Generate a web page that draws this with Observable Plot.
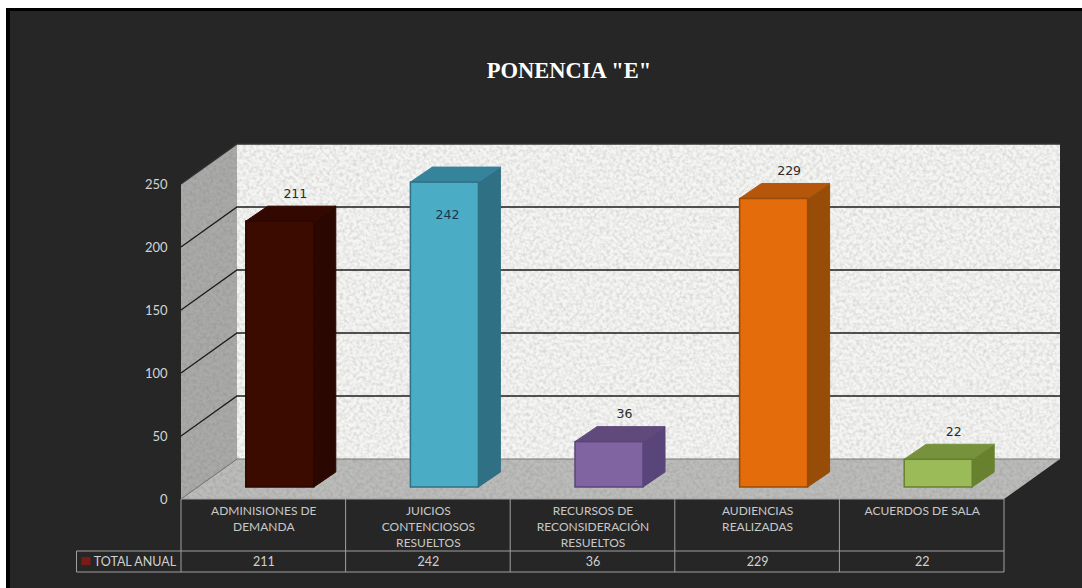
<!DOCTYPE html>
<html>
<head>
<meta charset="utf-8">
<script src="https://cdn.jsdelivr.net/npm/d3@7"></script>
<script src="https://cdn.jsdelivr.net/npm/@observablehq/plot@0.6"></script>
<style>
html,body{margin:0;padding:0;background:#fff;overflow:hidden;width:1082px;height:588px}
#panel{position:absolute;left:6px;top:8px;right:0;bottom:0;background:#262626;border-left:4px solid #000;border-top:3px solid #000}
#chart{position:absolute;left:0;top:0}
</style>
</head>
<body>
<div id="panel"></div>
<div id="chart"></div>
<script>
const title = 'PONENCIA "E"';
const seriesName = "TOTAL ANUAL";
const categories = ["ADMINISIONES DE\nDEMANDA","JUICIOS\nCONTENCIOSOS\nRESUELTOS","RECURSOS DE\nRECONSIDERACIÓN\nRESUELTOS","AUDIENCIAS\nREALIZADAS","ACUERDOS DE SALA"];
const values = [211,242,36,229,22];
const yTicks = [0,50,100,150,200,250];
const frontColors = ["#3b0b00","#4bacc6","#8064a2","#e46c0a","#9bbb59"];
const sideColors  = ["#2a0700","#2f7085","#59457a","#974c08","#67812f"];
const topColors   = ["#330800","#36849c","#604a7b","#b5560a","#76923c"];
const rows = categories.map((c,i)=>({c,v:values[i],i}));

const wall = {dx:56, dy:-40};      // depth of the chart box
const barZ = {dx:16.5, dy:-12};    // where the bar front sits inside the box
const barD = {dx:22, dy:-15};      // depth of each bar
const barInset = 48.3;
const tableRow1 = 52, tableRow2 = 73, headerLeft = 76.5;

const poly = (g,pts,fill,stroke,extra={})=>{
  const p = g.append("polygon").attr("points",pts.map(d=>d.join(",")).join(" ")).attr("fill",fill);
  if(stroke) p.attr("stroke",stroke);
  for(const k in extra) p.attr(k,extra[k]);
  return p;
};

function boxMark(_, {x,y}){
  const g = d3.create("svg:g");
  const defs = g.append("defs");
  defs.html(`<filter id="stone" x="0" y="0" width="1" height="1" color-interpolation-filters="sRGB">
    <feTurbulence type="fractalNoise" baseFrequency="0.3" numOctaves="2" seed="7" result="n"/>
    <feGaussianBlur in="n" stdDeviation="0.7" result="b"/>
    <feColorMatrix in="b" type="matrix" values="0 0 0 0 0.4 0 0 0 0 0.4 0 0 0 0 0.4 0.45 0 0 0 -0.17" result="a"/>
    <feComposite in="a" in2="SourceAlpha" operator="in" result="t"/>
    <feMerge><feMergeNode in="SourceGraphic"/><feMergeNode in="t"/></feMerge>
  </filter>`);
  const [x0,x1] = x.range();
  const y0 = y(0), yT = y(250), {dx,dy} = wall;
  poly(g,[[x0+dx,y0+dy],[x1+dx,y0+dy],[x1+dx,yT+dy],[x0+dx,yT+dy]],"#f5f5f3",null,{filter:"url(#stone)"});
  poly(g,[[x0,y0],[x0+dx,y0+dy],[x0+dx,yT+dy],[x0,yT]],"#aaaaa8",null,{filter:"url(#stone)"});
  poly(g,[[x0,y0],[x1,y0],[x1+dx,y0+dy],[x0+dx,y0+dy]],"#bcbcba",null,{filter:"url(#stone)"});
  for(const t of yTicks.filter(t=>t>0)){
    const yy = y(t);
    g.append("path").attr("d",`M${x0},${yy}L${x0+dx},${yy+dy}L${x1+dx},${yy+dy}`)
      .attr("fill","none").attr("stroke",t===250?"#333":"#1c1c1c").attr("stroke-width",1.3);
  }
  g.append("path").attr("d",`M${x0},${y0}L${x0+dx},${y0+dy}L${x1+dx},${y0+dy}`)
      .attr("fill","none").attr("stroke","#777").attr("stroke-width",1);
  return g.node();
}

function barSides(_, {x,y}){
  const g = d3.create("svg:g");
  for(const r of rows){
    const l = x(r.c)+barInset+barZ.dx, w = x.bandwidth()-2*barInset, R = l+w;
    const b = y(0)+barZ.dy, t = y(r.v)+barZ.dy, {dx,dy} = barD;
    poly(g,[[R,b],[R+dx,b+dy],[R+dx,t+dy],[R,t]],sideColors[r.i],sideColors[r.i]);
    poly(g,[[l,t],[R,t],[R+dx,t+dy],[l+dx,t+dy]],topColors[r.i],topColors[r.i]);
  }
  return g.node();
}

function tableMark(_, {x,y}){
  const g = d3.create("svg:g").attr("stroke","#a0a0a0").attr("stroke-width",1).attr("fill","none");
  const [x0,x1] = x.range();
  const y0 = y(0);
  g.append("path").attr("d",`M${x0},${y0}H${x1}M${x0},${y0+tableRow1}H${x1}M${headerLeft},${y0+tableRow1}V${y0+tableRow2}H${x1}M${headerLeft},${y0+tableRow1}H${x0}`);
  for(const e of [x0,...categories.map(c=>x(c)+x.bandwidth())])
    g.append("path").attr("d",`M${e},${y0}V${y0+tableRow2}`);
  g.append("rect").attr("x",headerLeft+5).attr("y",y0+tableRow1+6).attr("width",9).attr("height",8)
    .attr("fill","#7a1c14").attr("stroke","none");
  return g.node();
}

const uiFont = "Lato";
const labelFont = "DejaVu Sans";

const plot = Plot.plot({
  width:1082, height:588,
  marginLeft:181, marginRight:78, marginTop:184, marginBottom:89,
  style:{background:"transparent"},
  x:{domain:categories, padding:0, round:false, axis:null},
  y:{domain:[0,250], label:null},
  marks:[
    boxMark,
    barSides,
    Plot.barY(rows,{x:"c",y:"v",fill:d=>frontColors[d.i],stroke:d=>sideColors[d.i],strokeWidth:1.5,
      insetLeft:barInset,insetRight:barInset,dx:barZ.dx,dy:barZ.dy}),
    Plot.axisY(yTicks,{anchor:"left",tickSize:0,tickPadding:14,fontSize:13,fontFamily:uiFont,fill:"#d4d4d4",label:null}),
    Plot.text(rows.filter(d=>d.v!==242),{x:"c",y:"v",text:d=>String(d.v),dx:31.5,dy:-40,fontSize:12.5,fontFamily:labelFont,fill:"#2b2b2b"}),
    Plot.text(rows.filter(d=>d.v===242),{x:"c",y:"v",text:d=>String(d.v),dx:19,dy:20,fontSize:12.5,fontFamily:labelFont,fill:"#17374a"}),
    tableMark,
    Plot.text(rows,{x:"c",y:()=>0,text:"c",dy:4,lineAnchor:"top",lineHeight:1.33,fontSize:12,fontFamily:uiFont,fill:"#c8c8c8"}),
    Plot.text(rows,{x:"c",y:()=>0,text:d=>String(d.v),dy:62,fontSize:12.5,fontFamily:uiFont,fill:"#d0d0d0"}),
    Plot.text([seriesName],{x:()=>categories[0],y:()=>0,text:d=>d,textAnchor:"start",dx:-170,dy:62,fontSize:12.5,fontFamily:uiFont,fill:"#d0d0d0"}),
    Plot.text([title],{frameAnchor:"top",text:d=>d,dx:-24,dy:-122,fontFamily:"Liberation Serif",fontWeight:700,fontSize:22.5,fill:"#ffffff"})
  ]
});
document.getElementById("chart").appendChild(plot);
</script>
</body>
</html>
